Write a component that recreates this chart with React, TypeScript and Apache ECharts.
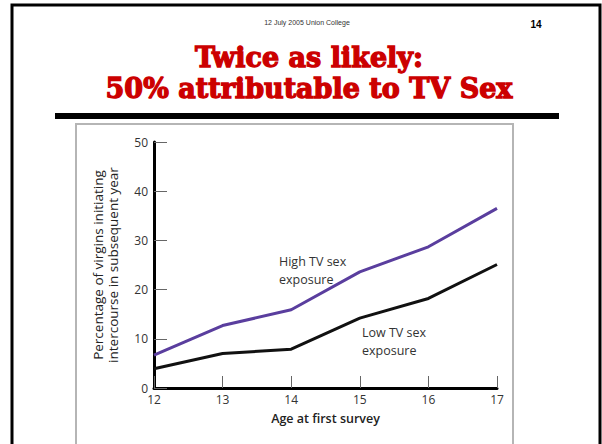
import React, { useEffect, useRef } from "react";
import * as echarts from "echarts";

const ages = ["12", "13", "14", "15", "16", "17"];
const highTV = [6.7, 12.7, 15.9, 23.6, 28.7, 36.5];
const lowTV = [3.9, 7.0, 7.9, 14.2, 18.2, 25.1];
const yTicks = { min: 0, max: 50, interval: 10 };

export default function App() {
  const ref = useRef<HTMLDivElement>(null);
  useEffect(() => {
    document.body.style.margin = "0";
    const chart = echarts.init(ref.current!, null, { renderer: "svg" });
    const font = "'Open Sans', 'Noto Sans', sans-serif";
    const labelStyle = (text: string) => ({
      text,
      font: "12.5px " + font,
      fill: "#333",
      align: "left",
      verticalAlign: "middle",
    });
    chart.setOption({
      animation: false,
      backgroundColor: "#fff",
      textStyle: { fontFamily: font },
      grid: { left: 154, right: 105, top: 142, bottom: 56, containLabel: false },
      xAxis: {
        type: "category",
        data: ages,
        boundaryGap: false,
        name: "Age at first survey",
        nameLocation: "middle",
        nameGap: 24,
        nameTextStyle: { fontSize: 12.5, fontWeight: 600, color: "#222", fontFamily: font },
        axisLine: { lineStyle: { color: "#000", width: 3 } },
        axisTick: { inside: true, length: 12, alignWithLabel: true, lineStyle: { color: "#666", width: 1 } },
        axisLabel: { fontSize: 12, color: "#333", margin: 5, fontFamily: font },
        splitLine: { show: false },
      },
      yAxis: {
        type: "value",
        min: yTicks.min,
        max: yTicks.max,
        interval: yTicks.interval,
        name: "Percentage of virgins initiating\nintercourse in subsequent year",
        nameLocation: "middle",
        nameRotate: 90,
        nameGap: 34,
        nameTextStyle: { fontSize: 13.5, fontWeight: 500, color: "#222", lineHeight: 15, fontFamily: font },
        axisLine: { show: true, lineStyle: { color: "#000", width: 3 } },
        axisTick: { show: true, inside: true, length: 13, lineStyle: { color: "#666", width: 1 } },
        axisLabel: { fontSize: 12, color: "#333", margin: 6, fontFamily: font },
        splitLine: { show: false },
      },
      series: [
        {
          name: "High TV sex exposure",
          type: "line",
          data: highTV,
          symbol: "none",
          lineStyle: { color: "#5a3e9e", width: 3 },
        },
        {
          name: "Low TV sex exposure",
          type: "line",
          data: lowTV,
          symbol: "none",
          lineStyle: { color: "#111", width: 3 },
        },
      ],
      graphic: [
        { type: "rect", shape: { x: 12, y: 5, width: 588, height: 460 }, style: { fill: "none", stroke: "#000", lineWidth: 3 }, z: -1 },
        { type: "rect", shape: { x: 76, y: 124, width: 437, height: 340 }, style: { fill: "none", stroke: "#b5b5b5", lineWidth: 2 }, z: -1 },
        { type: "rect", shape: { x: 55, y: 113, width: 504, height: 6 }, style: { fill: "#000" } },
        { type: "text", x: 307, y: 22, style: { text: "12 July 2005 Union College", font: "7px 'Liberation Sans', Arial, sans-serif", fill: "#333", align: "center", verticalAlign: "middle" } },
        { type: "text", x: 536, y: 24, style: { text: "14", font: "bold 10px 'Liberation Sans', Arial, sans-serif", fill: "#000", align: "center", verticalAlign: "middle" } },
        { type: "text", x: 309, y: 57, style: { text: "Twice as likely:", font: "bold 27px 'DejaVu Serif', serif", fill: "#cc0000", stroke: "#cc0000", lineWidth: 1.3, align: "center", verticalAlign: "middle" } },
        { type: "text", x: 309, y: 88, style: { text: "50% attributable to TV Sex", font: "bold 27px 'DejaVu Serif', serif", fill: "#cc0000", stroke: "#cc0000", lineWidth: 1.3, align: "center", verticalAlign: "middle" } },
        { type: "text", x: 279, y: 261, style: labelStyle("High TV sex") },
        { type: "text", x: 279, y: 279, style: labelStyle("exposure") },
        { type: "text", x: 362, y: 332, style: labelStyle("Low TV sex") },
        { type: "text", x: 362, y: 350, style: labelStyle("exposure") },
      ],
    });
    return () => chart.dispose();
  }, []);
  return <div ref={ref} style={{ width: 602, height: 444 }} />;
}
